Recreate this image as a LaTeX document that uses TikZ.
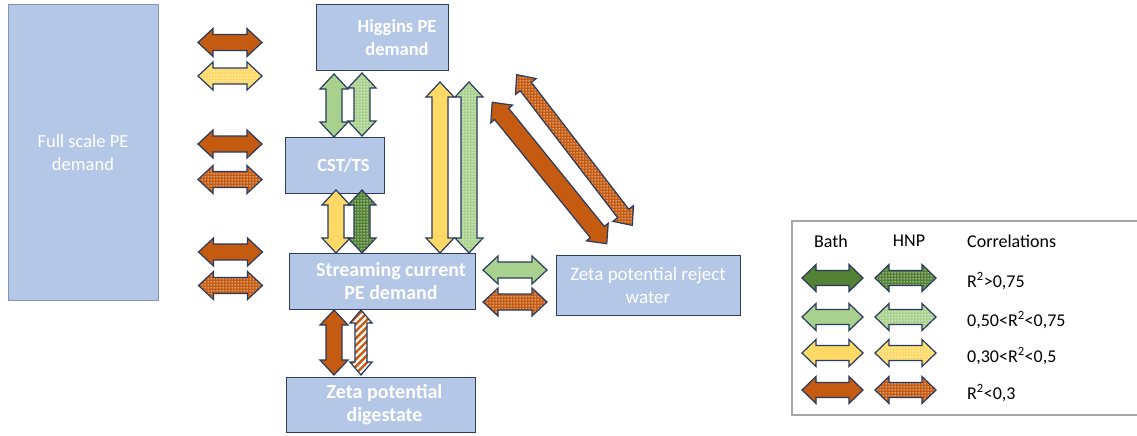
\documentclass[tikz,border=0pt]{standalone}
\usepackage{fontspec}
\setmainfont{Carlito}
\usetikzlibrary{patterns.meta}

\definecolor{boxfill}{HTML}{B4C7E7}
\definecolor{boxline}{HTML}{2F3D5C}
\definecolor{fullline}{HTML}{8496B0}
\definecolor{aline}{HTML}{283A5E}
\definecolor{dkgreen}{HTML}{548235}
\definecolor{ltgreen}{HTML}{A9D18E}
\definecolor{yel}{HTML}{FFD966}
\definecolor{ora}{HTML}{C55A11}
\definecolor{legline}{HTML}{A6A6A6}

% small white squares on a coloured ground
\tikzdeclarepattern{
  name=dotgrid,
  type=uncolored,
  bounding box={(0pt,0pt) and (3pt,3pt)},
  tile size={(3pt,3pt)},
  code={\pgfpathrectangle{\pgfpoint{0.7pt}{0.7pt}}{\pgfpoint{1.4pt}{1.4pt}}\pgfusepath{fill}}
}

\tikzset{
  box/.style={draw=boxline, line width=1pt, fill=boxfill, inner sep=0pt},
  boxtext/.style={text=white, align=center, inner sep=0pt,
    font=\fontsize{18.5}{22.5}\selectfont},
  boldtext/.style={boxtext, font=\fontsize{18.5}{22.5}\selectfont\bfseries},
  bigbold/.style={boxtext, font=\fontsize{20}{23.5}\selectfont\bfseries},
  bath/.style={fill=#1, draw=aline, line width=1.2pt},
  hnp/.style={preaction={fill=#1}, preaction={pattern=dotgrid, pattern color=white},
    draw=aline, line width=1.2pt},
  striped/.style={preaction={fill=#1},
    preaction={pattern={Lines[angle=45,distance=5pt,line width=2.3pt]}, pattern color=white},
    draw=aline, line width=1.2pt},
  legtext/.style={font=\fontsize{18}{22}\selectfont, inner sep=0pt},
}

% double-headed block arrow: style, centre x, centre y, angle, length,
% head half-width, shaft half-width, head length
\newcommand\blockarrowfull[8]{%
  \path[#1, shift={(#2,#3)}, rotate=#4]
    ({-(#5)/2},0) -- ({-(#5)/2+#8},{#6}) -- ({-(#5)/2+#8},{#7})
    -- ({(#5)/2-#8},{#7}) -- ({(#5)/2-#8},{#6}) -- ({(#5)/2},0)
    -- ({(#5)/2-#8},{-#6}) -- ({(#5)/2-#8},{-#7})
    -- ({-(#5)/2+#8},{-#7}) -- ({-(#5)/2+#8},{-#6}) -- cycle;}
\newcommand\blockarrow[5]{\blockarrowfull{#1}{#2}{#3}{#4}{#5}{14}{8}{15}}

\begin{document}
\begin{tikzpicture}[x=1pt, y=-1pt]
\useasboundingbox (0,0) rectangle (1137,436);

% process boxes
\node[box, draw=fullline, minimum width=150pt, minimum height=295pt] (full) at (83,152.5) {};
\node[boxtext] (fullT) at (full.center) {Full scale PE\\demand};
\node[box, minimum width=132pt, minimum height=65pt] (higgins) at (382,37.5) {};
\node[boldtext] (higginsT) at ([xshift=15pt]higgins.center) {Higgins PE\\demand};
\node[box, minimum width=99pt, minimum height=56pt] (cst) at (334.5,165) {};
\node[boldtext] (cstT) at ([xshift=9pt]cst.center) {CST/TS};
\node[box, minimum width=186pt, minimum height=56pt] (stream) at (382,281) {};
\node[bigbold] (streamT) at ([xshift=9pt]stream.center) {Streaming current\\PE demand};
\node[box, minimum width=184pt, minimum height=60pt] (reject) at (648,285) {};
\node[boxtext, font=\fontsize{19}{23}\selectfont] (rejectT) at (reject.center) {Zeta potential reject\\water};
\node[box, minimum width=189pt, minimum height=55pt] (digest) at (380.5,404.5) {};
\node[bigbold] (digestT) at ([xshift=4pt]digest.center) {Zeta potential\\digestate};

% correlations with the full scale demand
\blockarrow{bath=ora}{230}{42.5}{0}{64}
\blockarrow{hnp=yel}{230}{76}{0}{64}
\blockarrow{bath=ora}{230}{144}{0}{64}
\blockarrow{hnp=ora}{230}{179.5}{0}{64}
\blockarrow{bath=ora}{230.5}{252}{0}{64}
\blockarrow{hnp=ora}{230.5}{285.5}{0}{64}

% Higgins -- CST/TS
\blockarrow{bath=ltgreen}{334}{105.5}{90}{63}
\blockarrow{hnp=ltgreen}{362}{104.5}{90}{63}
% CST/TS -- streaming current
\blockarrow{bath=yel}{336}{221.5}{90}{63}
\blockarrow{hnp=dkgreen}{362}{221.5}{90}{63}
% Higgins -- streaming current
\blockarrow{bath=yel}{440}{167.5}{90}{171}
\blockarrow{hnp=ltgreen}{469}{167.5}{90}{171}
% streaming current -- digestate
\blockarrow{bath=ora}{334}{342.5}{90}{65}
\blockarrowfull{striped=ora}{361}{342.5}{90}{65}{11}{6}{13}
% streaming current -- reject water
\blockarrow{bath=ltgreen}{515}{270}{0}{64}
\blockarrow{hnp=ora}{515}{302}{0}{64}
% Higgins -- reject water
\blockarrowfull{bath=ora}{549.5}{173}{-51}{182}{14}{9}{15}
\blockarrowfull{hnp=ora}{574.5}{150}{-52.5}{190}{13}{7}{15}

% legend
\draw[legline, line width=1.2pt] (1145,221) -- (792,221) -- (792,415) -- (1145,415);
\node[legtext] (lbath) at (831,241) {Bath};
\node[legtext] (lhnp) at (909,241) {HNP};
\node[legtext, anchor=west] (lcorr) at (967,241) {Correlations};
\blockarrowfull{bath=dkgreen}{832.5}{278}{0}{61}{13.5}{7.5}{14}
\blockarrowfull{hnp=dkgreen}{905.5}{278}{0}{61}{13.5}{7.5}{14}
\node[legtext, anchor=west] (r1) at (967,281) {R\textsuperscript{2}>0,75};
\blockarrowfull{bath=ltgreen}{832.5}{317}{0}{61}{13.5}{7.5}{14}
\blockarrowfull{hnp=ltgreen}{905.5}{317}{0}{61}{13.5}{7.5}{14}
\node[legtext, anchor=west] (r2) at (967,320) {0,50<R\textsuperscript{2}<0,75};
\blockarrowfull{bath=yel}{832.5}{353}{0}{61}{13.5}{7.5}{14}
\blockarrowfull{hnp=yel}{905.5}{353}{0}{61}{13.5}{7.5}{14}
\node[legtext, anchor=west] (r3) at (967,356) {0,30<R\textsuperscript{2}<0,5};
\blockarrowfull{bath=ora}{832.5}{390}{0}{61}{13.5}{7.5}{14}
\blockarrowfull{hnp=ora}{905.5}{390}{0}{61}{13.5}{7.5}{14}
\node[legtext, anchor=west] (r4) at (967,393) {R\textsuperscript{2}<0,3};
\end{tikzpicture}
\end{document}
